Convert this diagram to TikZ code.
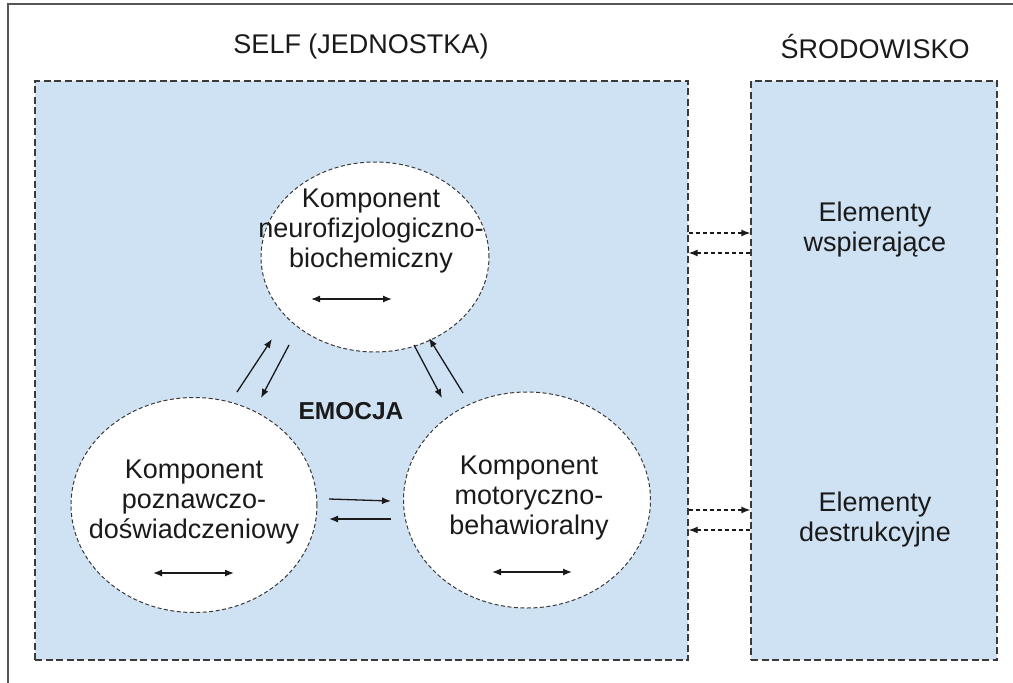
\documentclass[tikz,border=0pt]{standalone}
\usepackage{fontspec}
\setmainfont{Liberation Sans}
\usetikzlibrary{arrows.meta,shapes.geometric}
\definecolor{boxblue}{HTML}{CFE2F3}
\definecolor{edgegray}{HTML}{3A3A3A}
\definecolor{ink}{HTML}{1A1A1A}
\definecolor{framegray}{HTML}{555555}
\begin{document}
\begin{tikzpicture}[x=1pt,y=-1pt,
  region/.style={draw=edgegray, fill=boxblue, line width=1.3pt, dash pattern=on 7pt off 3.5pt, rectangle, inner sep=0pt},
  comp/.style={ellipse, draw=edgegray, fill=white, line width=1pt, dash pattern=on 4pt off 2.5pt, inner sep=0pt},
  lbl/.style={font=\fontsize{27}{30}\selectfont, text=ink, align=center, inner sep=0pt},
  arr/.style={-{Latex[length=9pt,width=7pt]}, line width=1.3pt, draw=ink},
  dbl/.style={{Latex[length=9pt,width=7pt]}-{Latex[length=9pt,width=7pt]}, line width=1.3pt, draw=ink},
  darr/.style={arr, dash pattern=on 4pt off 3pt}
]
\useasboundingbox (0,0) rectangle (1013,683);
% outer frame (top and left only)
\draw[framegray, line width=1.5pt] (8,683) -- (8,4) -- (1013,4);

% titles
\node[lbl] (tself) at (361,47) {SELF (JEDNOSTKA)};
\node[lbl] (tenv) at (875,47) {ŚRODOWISKO};

% regions
\node[region, minimum width=653pt, minimum height=579pt] (self) at (361.5,370.5) {};
\node[region, minimum width=246pt, minimum height=579pt] (env) at (874,370.5) {};

% components
\node[comp, minimum width=228pt, minimum height=190pt] (top) at (375,257) {};
\node[comp, minimum width=246pt, minimum height=215pt] (bl) at (194,505) {};
\node[comp, minimum width=247pt, minimum height=216pt] (br) at (527,500) {};

\node[lbl] (ttop) at (371,231) {Komponent\\neurofizjologiczno-\\biochemiczny};
\node[lbl] (tbl) at (194,502) {Komponent\\poznawczo-\\doświadczeniowy};
\node[lbl] (tbr) at (529,498) {Komponent\\motoryczno-\\behawioralny};

\node[font=\bfseries\fontsize{24.5}{28}\selectfont, text=ink, inner sep=0pt] (emo) at (351,411) {EMOCJA};

% internal double arrows
\coordinate (ta1) at (311,299); \coordinate (ta2) at (392,299);
\coordinate (la1) at (153,573); \coordinate (la2) at (234,573);
\coordinate (ra1) at (492,572); \coordinate (ra2) at (572,572);
\draw[dbl] (ta1) -- (ta2);
\draw[dbl] (la1) -- (la2);
\draw[dbl] (ra1) -- (ra2);

% arrows between components
\coordinate (p1) at (237,392); \coordinate (p2) at (272,339);
\coordinate (p3) at (289,345); \coordinate (p4) at (261,398);
\coordinate (q1) at (414,345); \coordinate (q2) at (442,398);
\coordinate (q3) at (463,393); \coordinate (q4) at (429,338);
\coordinate (h1) at (329,499); \coordinate (h2) at (391,501);
\coordinate (h3) at (391,519); \coordinate (h4) at (329,519);
\draw[arr] (p1) -- (p2);
\draw[arr] (p3) -- (p4);
\draw[arr] (q1) -- (q2);
\draw[arr] (q3) -- (q4);
\draw[arr] (h1) -- (h2);
\draw[arr] (h3) -- (h4);

% environment elements
\node[lbl] (sup) at (875,230) {Elementy\\wspierające};
\node[lbl] (des) at (875,520) {Elementy\\destrukcyjne};

% dashed arrows between regions
\draw[darr] (self.east |- 0,233) -- (env.west |- 0,233);
\draw[darr] (env.west |- 0,253) -- (self.east |- 0,253);
\draw[darr] (self.east |- 0,510) -- (env.west |- 0,510);
\draw[darr] (env.west |- 0,530) -- (self.east |- 0,530);
\end{tikzpicture}
\end{document}
